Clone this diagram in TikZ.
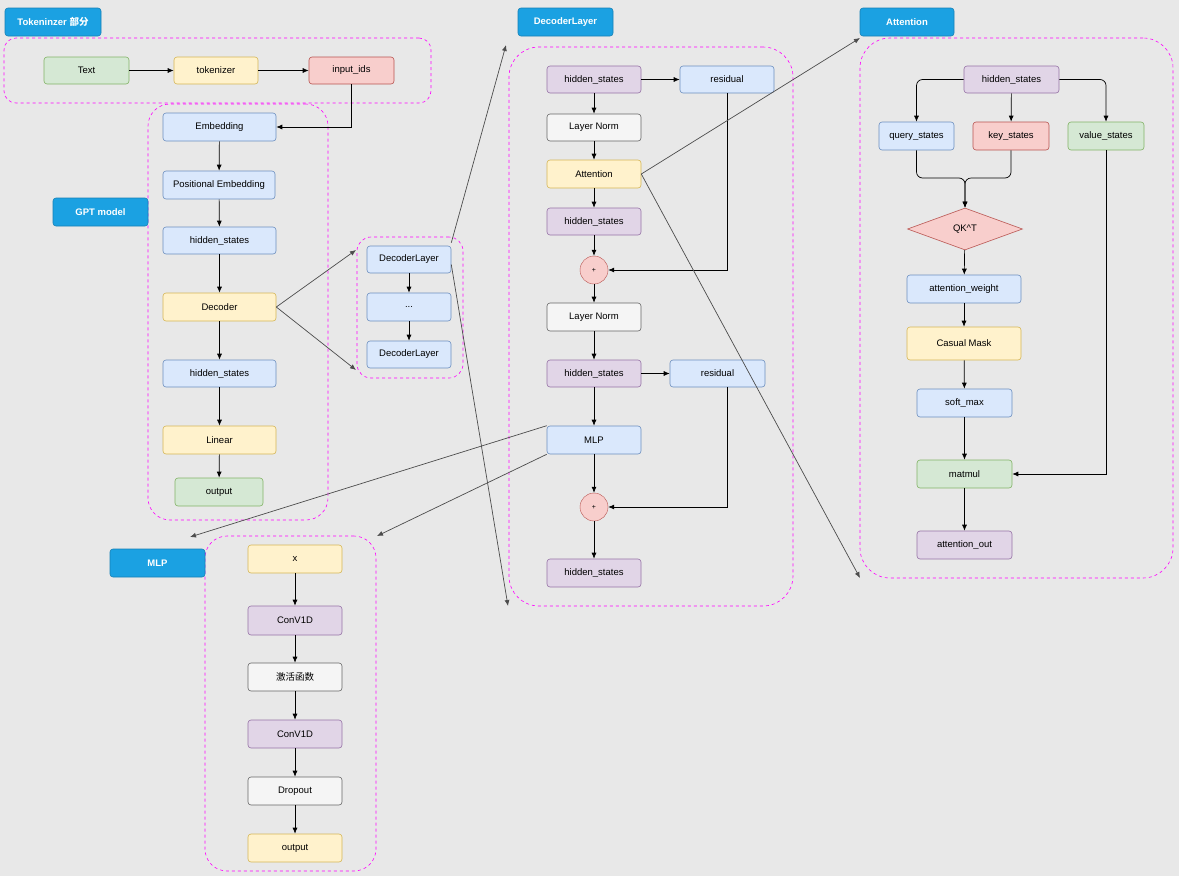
\documentclass[tikz,border=0pt]{standalone}
\usepackage{fontspec}
\setmainfont{Liberation Sans}
\newfontfamily\cjk{Noto Sans CJK SC}
\usetikzlibrary{arrows.meta,shapes.geometric}
\definecolor{bg}{HTML}{E8E8E8}
\definecolor{bF}{HTML}{DAE8FC}\definecolor{bS}{HTML}{6C8EBF}
\definecolor{yF}{HTML}{FFF2CC}\definecolor{yS}{HTML}{D6B656}
\definecolor{gF}{HTML}{D5E8D4}\definecolor{gS}{HTML}{82B366}
\definecolor{rF}{HTML}{F8CECC}\definecolor{rS}{HTML}{B85450}
\definecolor{pF}{HTML}{E1D5E7}\definecolor{pS}{HTML}{9673A6}
\definecolor{wF}{HTML}{F5F5F5}\definecolor{wS}{HTML}{666666}
\definecolor{hd}{HTML}{1BA1E2}
\definecolor{mg}{HTML}{FF00FF}
\tikzset{
 box/.style={draw,rounded corners=3pt,line width=0.6pt,inner sep=0pt,font=\fontsize{9.5}{11}\selectfont},
 B/.style={box,fill=bF,draw=bS}, Y/.style={box,fill=yF,draw=yS},
 G/.style={box,fill=gF,draw=gS}, R/.style={box,fill=rF,draw=rS},
 P/.style={box,fill=pF,draw=pS}, W/.style={box,fill=wF,draw=wS},
 H/.style={box,fill=hd,draw=hd!80!black,text=white,font=\fontsize{9.5}{11}\selectfont\bfseries},
 grp/.style={draw=mg,dashed,rounded corners=22pt,line width=0.6pt,inner sep=0pt},
 grp2/.style={draw=black,dashed,rounded corners=0pt,line width=0.5pt},
 ar/.style={-{Latex[length=6pt,width=5pt]},line width=0.7pt,black},
 ln/.style={-{Latex[length=6pt,width=5pt]},line width=0.7pt,black!70},
}
\newcommand\nb[7]{\node[#6,minimum width={(#4-#2)*1pt},minimum height={(#5-#3)*1pt}] (#1) at ({(#2+#4)/2},{(#3+#5)/2}) {#7};}
\begin{document}
\begin{tikzpicture}[x=1pt,y=-1pt]
\fill[bg] (0,0) rectangle (1179,876);
\useasboundingbox (0,0) rectangle (1179,876);
% groups
\nb{gtok}{4}{38}{431}{103}{grp,rounded corners=12pt}{}
\nb{ggpt}{148}{104}{328}{520}{grp}{}
\nb{gdl}{357}{237}{463}{378}{grp,rounded corners=14pt}{}
\nb{gdec}{509}{47}{793}{606}{grp,rounded corners=30pt}{}
\nb{gatt}{860}{38}{1173}{578}{grp,rounded corners=30pt}{}
\nb{gmlp}{205}{536}{376}{871}{grp}{}
% headers
\nb{htok}{5}{8}{101}{36}{H}{Tokeninzer {\cjk 部分}}
\nb{hgpt}{53}{198}{148}{226}{H}{GPT model}
\nb{hdec}{518}{8}{613}{36}{H}{DecoderLayer}
\nb{hatt}{860}{8}{954}{36}{H}{Attention}
\nb{hmlp}{110}{549}{205}{577}{H}{MLP}
% tokenizer
\nb{text}{44}{57}{129}{84}{G}{Text}
\nb{tok}{174}{57}{258}{84}{Y}{tokenizer}
\nb{ids}{309}{57}{394}{84}{R}{input\_ids}
% gpt
\nb{emb}{163}{113}{276}{141}{B}{Embedding}
\nb{pos}{163}{171}{275}{199}{B}{Positional Embedding}
\nb{hs1}{163}{227}{276}{254}{B}{hidden\_states}
\nb{dec}{163}{293}{276}{321}{Y}{Decoder}
\nb{hs2}{163}{360}{276}{387}{B}{hidden\_states}
\nb{lin}{163}{426}{276}{454}{Y}{Linear}
\nb{out}{175}{478}{263}{506}{G}{output}
% decoder layers
\nb{dl1}{367}{246}{451}{273}{B}{DecoderLayer}
\nb{dld}{367}{293}{451}{321}{B}{...}
\nb{dl2}{367}{341}{451}{368}{B}{DecoderLayer}
% decoder layer detail
\nb{d1}{547}{66}{641}{93}{P}{hidden\_states}
\nb{res1}{680}{66}{774}{93}{B}{residual}
\nb{ln1}{547}{114}{641}{141}{W}{Layer Norm}
\nb{att}{547}{160}{641}{188}{Y}{Attention}
\nb{d2}{547}{208}{641}{235}{P}{hidden\_states}
\node[circle,draw=rS,fill=rF,minimum size=28pt,inner sep=0pt,font=\fontsize{7}{8}\selectfont] (p1) at (594,270) {+};
\nb{ln2}{547}{303}{641}{331}{W}{Layer Norm}
\nb{d3}{547}{360}{641}{387}{P}{hidden\_states}
\nb{res2}{670}{360}{765}{387}{B}{residual}
\nb{mlp}{547}{426}{641}{454}{B}{MLP}
\node[circle,draw=rS,fill=rF,minimum size=28pt,inner sep=0pt,font=\fontsize{7}{8}\selectfont] (p2) at (594,507) {+};
\nb{d4}{547}{559}{641}{587}{P}{hidden\_states}
% attention detail
\nb{a0}{964}{66}{1059}{93}{P}{hidden\_states}
\nb{q}{879}{122}{954}{150}{B}{query\_states}
\nb{k}{973}{122}{1049}{150}{R}{key\_states}
\nb{v}{1068}{122}{1144}{150}{G}{value\_states}
\node[diamond,aspect=2.75,draw=rS,fill=rF,line width=0.6pt,minimum width=115pt,minimum height=42pt,inner sep=0pt,font=\fontsize{9.5}{11}\selectfont] (qk) at (965,229) {QK\textasciicircum T};
\nb{aw}{907}{275}{1021}{303}{B}{attention\_weight}
\nb{cm}{907}{327}{1021}{360}{Y}{Casual Mask}
\nb{sm}{917}{389}{1012}{417}{B}{soft\_max}
\nb{mm}{917}{460}{1012}{488}{G}{matmul}
\nb{ao}{917}{531}{1012}{559}{P}{attention\_out}
% mlp detail
\nb{x}{248}{545}{342}{573}{Y}{x}
\nb{c1}{248}{606}{342}{635}{P}{ConV1D}
\nb{act}{248}{663}{342}{691}{W}{{\cjk 激活函数}}
\nb{c2}{248}{720}{342}{748}{P}{ConV1D}
\nb{drop}{248}{777}{342}{805}{W}{Dropout}
\nb{mo}{248}{834}{342}{862}{Y}{output}
% arrows tokenizer
\draw[ar] (text) -- (tok);
\draw[ar] (tok) -- (ids);
\draw[ar] (ids.south) |- (emb.east);
\draw[ar] (emb) -- (pos);
\draw[ar] (pos) -- (hs1);
\draw[ar] (hs1) -- (dec);
\draw[ar] (dec) -- (hs2);
\draw[ar] (hs2) -- (lin);
\draw[ar] (lin) -- (out);
\coordinate (e1) at (356,250); \coordinate (e2) at (356,370);
\draw[ln] (dec.east) -- (e1);
\draw[ln] (dec.east) -- (e2);
\draw[ar] (dl1) -- (dld);
\draw[ar] (dld) -- (dl2);
\coordinate (f1) at (506,45); \coordinate (f2) at (508,606);
\draw[ln] (dl1.north east) ++(0,-3) -- (f1);
\draw[ln] ([yshift=-5pt]dl1.east) -- (f2);
% decoder layer
\draw[ar] (d1) -- (res1);
\draw[ar] (d1) -- (ln1);
\draw[ar] (ln1) -- (att);
\draw[ar] (att) -- (d2);
\draw[ar] (d2) -- (p1);
\draw[ar] (res1.south -| 727,0) |- (p1.east);
\draw[ar] (p1) -- (ln2);
\draw[ar] (ln2) -- (d3);
\draw[ar] (d3) -- (res2);
\draw[ar] (d3) -- (mlp);
\draw[ar] (mlp) -- (p2);
\draw[ar] (res2.south -| 727,0) |- (p2.east);
\draw[ar] (p2) -- (d4);
\coordinate (g1) at (860,38); \coordinate (g2) at (860,578);
\draw[ln] (att.east) -- (g1);
\draw[ln] (att.east) -- (g2);
\coordinate (m1) at (190,537); \coordinate (m2) at (377,536);
\draw[ln] (mlp.north west) -- (m1);
\draw[ln] (mlp.south west) -- (m2);
% attention
\draw[ar,rounded corners=6pt] (a0.west) -| (q.north);
\draw[ar] (a0) -- (k);
\draw[ar,rounded corners=6pt] (a0.east) -| (v.north);
\draw[ar,rounded corners=6pt] (q.south) |- (940,178) -| (qk.north);
\draw[ar,rounded corners=6pt] (k.south) |- (990,178) -| (qk.north);
\draw[ar] (qk) -- (aw);
\draw[ar] (aw) -- (cm);
\draw[ar] (cm) -- (sm);
\draw[ar] (sm) -- (mm);
\draw[ar] (v.south) |- (mm.east);
\draw[ar] (mm) -- (ao);
% mlp
\draw[ar] (x) -- (c1);
\draw[ar] (c1) -- (act);
\draw[ar] (act) -- (c2);
\draw[ar] (c2) -- (drop);
\draw[ar] (drop) -- (mo);
\end{tikzpicture}
\end{document}
